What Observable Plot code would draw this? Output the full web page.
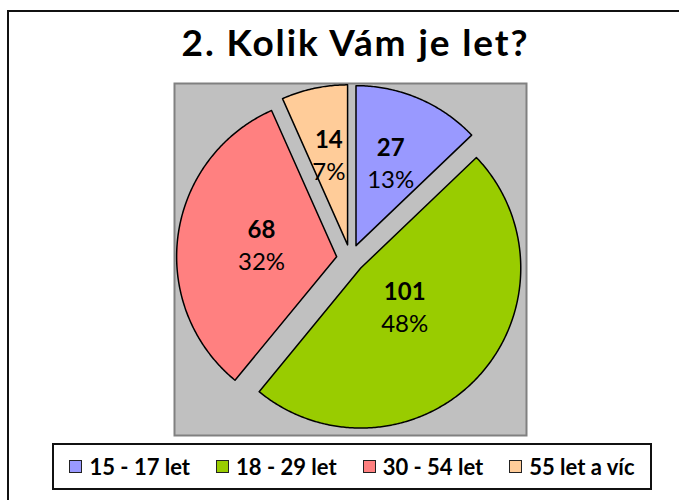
<!DOCTYPE html>
<html>
<head>
<meta charset="utf-8">
<script src="https://cdn.jsdelivr.net/npm/d3@7"></script>
<script src="https://cdn.jsdelivr.net/npm/@observablehq/plot@0.6"></script>
<style>
  html, body { margin: 0; padding: 0; width: 679px; height: 500px; overflow: hidden; background: #fff; }
  #frame { position: absolute; left: 7px; top: 10px; width: 700px; height: 520px; border: 2px solid #111; box-sizing: border-box; }
  #title { position: absolute; left: 22px; width: 667px; top: 20px; text-align: center;
           font-family: Lato, "Open Sans", sans-serif; font-weight: 700; font-size: 37px; line-height: 44px;
           letter-spacing: 1.9px; color: #000; }
  #plot { position: absolute; left: 174px; top: 83px; }
  #legend { position: absolute; left: 52px; top: 443px; width: 600px; height: 47px; box-sizing: border-box;
            border: 2px solid #111; display: flex; align-items: center; justify-content: center; gap: 26px;
            font-family: Lato, "Open Sans", sans-serif; font-weight: 700; font-size: 22px; color: #000; }
  .item { display: flex; align-items: center; gap: 7px; white-space: nowrap; }
  .sw { width: 11px; height: 11px; border: 1.5px solid #222; }
</style>
</head>
<body>
<div id="frame"></div>
<div id="title">2. Kolik Vám je let?</div>
<div id="plot"></div>
<div id="legend"></div>
<script>
const categories = ["15 - 17 let", "18 - 29 let", "30 - 54 let", "55 let a víc"];
const values = [27, 101, 68, 14];
const colors = ["#9999ff", "#99cc00", "#ff8080", "#ffcc99"];

const total = d3.sum(values);
const explode = 14 / 160;           // slice offset relative to the radius
const arcs = d3.pie().sort(null).value(d => d)(values);

// polygon outlines of the exploded slices (unit radius)
const outline = [];
const labels = [];
arcs.forEach((a, i) => {
  const mid = (a.startAngle + a.endAngle) / 2;
  const ox = explode * Math.sin(mid), oy = explode * Math.cos(mid);
  const cat = categories[i];
  outline.push({cat, x: ox, y: oy});
  const n = Math.max(2, Math.ceil((a.endAngle - a.startAngle) / 0.01));
  for (let k = 0; k <= n; k++) {
    const t = a.startAngle + (a.endAngle - a.startAngle) * k / n;
    outline.push({cat, x: ox + Math.sin(t), y: oy + Math.cos(t)});
  }
  outline.push({cat, x: ox, y: oy});
  const half = (a.endAngle - a.startAngle) / 2;
  const r = 0.85 * 2 * Math.sin(half) / (3 * half);
  labels.push({
    cat,
    x: ox + r * Math.sin(mid),
    y: oy + r * Math.cos(mid),
    value: String(values[i]),
    pct: Math.round(values[i] / total * 100) + "%"
  });
});

const chart = Plot.plot({
  width: 352,
  height: 352,
  margin: 0,
  x: {domain: [-1.1, 1.1], axis: null},
  y: {domain: [-1.106, 1.094], axis: null},
  color: {domain: categories, range: colors},
  style: {background: "#c0c0c0", overflow: "visible"},
  marks: [
    Plot.frame({stroke: "#808080", strokeWidth: 2}),
    Plot.line(outline, {x: "x", y: "y", z: "cat", fill: "cat", stroke: "#000", strokeWidth: 1.5, curve: "linear"}),
    Plot.text(labels, {x: "x", y: "y", text: "value", dy: -16, fontWeight: "bold", fontSize: 24, fill: "#000",
      fontFamily: "Lato, 'Open Sans', sans-serif"}),
    Plot.text(labels, {x: "x", y: "y", text: "pct", dy: 16, fontSize: 24, fill: "#000",
      fontFamily: "Lato, 'Open Sans', sans-serif"})
  ]
});
document.getElementById("plot").appendChild(chart);

const legend = document.getElementById("legend");
categories.forEach((c, i) => {
  const item = document.createElement("div");
  item.className = "item";
  const sw = document.createElement("div");
  sw.className = "sw";
  sw.style.background = colors[i];
  const t = document.createElement("span");
  t.textContent = c;
  item.appendChild(sw);
  item.appendChild(t);
  legend.appendChild(item);
});
</script>
</body>
</html>
